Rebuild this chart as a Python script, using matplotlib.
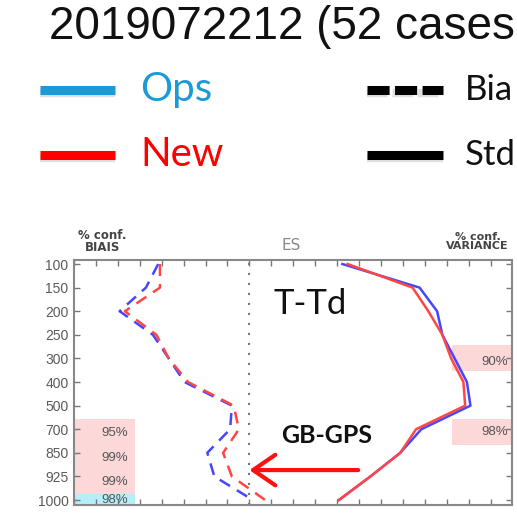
import matplotlib
matplotlib.use('Agg')
import matplotlib.pyplot as plt
import numpy as np

# Pressure levels (hPa), plotted at equal spacing
levels = ['100', '150', '200', '250', '300', '400', '500', '700', '850', '925', '1000']

# Bias profiles (dashed)
bias_ops = [-0.52, -0.59, -0.74, -0.55, -0.46, -0.37, -0.10, -0.11, -0.24, -0.20, 0.02]
bias_new = [-0.51, -0.51, -0.71, -0.53, -0.46, -0.35, -0.09, -0.06, -0.15, -0.10, 0.09]

# Standard deviation profiles (solid)
std_ops = [0.53, 0.97, 1.07, 1.10, 1.17, 1.24, 1.26, 0.98, 0.86, 0.69, 0.51]
std_new = [0.56, 0.93, 1.02, 1.10, 1.15, 1.22, 1.23, 0.95, 0.86, 0.69, 0.51]

# Significance labels
bias_conf = ['95%', '99%', '99%', '98%']
var_conf = ['90%', '98%']

blue = '#4646ff'
red = '#ff4646'
grey = '#5a5a5a'

fig = plt.figure(figsize=(5.17, 5.15), dpi=100)

# ---- header: title and legend (cropped slide, text visible up to the edge) ----
fig.text(0.094, 0.925, '2019072212 (52 cases', fontsize=33, family='Liberation Sans',
         color='#111111', va='baseline', ha='left')

leg = fig.add_axes([0, 0.6, 1, 0.28])
leg.set_xlim(0, 517)
leg.set_ylim(0.6 * 515, 0.88 * 515)
leg.axis('off')
yy = 515 - np.array([90, 155])
# soft shadow under the legend lines
for yv in yy:
    leg.plot([40, 115], [yv - 3] * 2, color='#cccccc', lw=6, alpha=0.6, solid_capstyle='butt')
leg.plot([367, 443], [yy[0] - 3] * 2, color='#cccccc', lw=6, alpha=0.6, dashes=(2.45, 0.6))
leg.plot([367, 443], [yy[1] - 3] * 2, color='#cccccc', lw=6, alpha=0.6, solid_capstyle='butt')
leg.plot([40, 115], [yy[0]] * 2, color='#1b9ad8', lw=6.5, solid_capstyle='butt')
leg.plot([40, 115], [yy[1]] * 2, color='#ff0000', lw=6.5, solid_capstyle='butt')
leg.plot([367, 443], [yy[0]] * 2, color='black', lw=6.5, dashes=(2.45, 0.6),
         dash_capstyle='butt')
leg.plot([367, 443], [yy[1]] * 2, color='black', lw=6.5, solid_capstyle='butt')
leg.text(140, yy[0], 'Ops', color='#1b9ad8', fontsize=29, family='Lato', va='center')
leg.text(140, yy[1], 'New', color='#ff0000', fontsize=29, family='Lato', va='center')
leg.text(465, yy[0], 'Bia', color='#111111', fontsize=25, family='Lato', va='center')
leg.text(465, yy[1], 'Std', color='#111111', fontsize=25, family='Lato', va='center')

# ---- profile panel ----
ax = fig.add_axes([74 / 517, 10 / 515, 438 / 517, 245 / 515])
y = np.arange(len(levels))

# significance shading
ax.axhspan(6.55, 9.75, xmin=0, xmax=0.139, color='#fcd8d8', lw=0)
ax.axhspan(9.75, 10.3, xmin=0, xmax=0.139, color='#b6eefa', lw=0)
ax.axhspan(3.45, 4.55, xmin=0.863, xmax=1, color='#fcd8d8', lw=0)
ax.axhspan(6.55, 7.65, xmin=0.863, xmax=1, color='#fcd8d8', lw=0)

for txt, yp in zip(bias_conf, [7.15, 8.2, 9.25, 10.0]):
    ax.text(-0.69, yp, txt, ha='right', va='center', fontsize=9.5, color='#555555',
            family='Liberation Sans')
for txt, yp in zip(var_conf, [4.15, 7.1]):
    ax.text(1.475, yp, txt, ha='right', va='center', fontsize=9.5, color='#555555',
            family='Liberation Sans')

ax.axvline(0, color='#777777', lw=1.5, dashes=(1, 3.8))

ax.plot(bias_ops, y, color=blue, lw=1.8, dashes=(4.8, 3.2))
ax.plot(bias_new, y, color=red, lw=1.8, dashes=(4.8, 3.2), dash_capstyle='butt')
ax.plot(std_ops, y, color=blue, lw=1.8)
ax.plot(std_new, y, color=red, lw=1.8)

ax.annotate('', xy=(0.0, 8.73), xytext=(0.62, 8.73),
            arrowprops=dict(arrowstyle='->,head_length=1.6,head_width=1.1',
                            color='#ff1010', lw=3, mutation_scale=10,
                            shrinkA=0, shrinkB=0))

ax.text(0.14, 1.7, 'T-Td', fontsize=25, family='Lato', color='#111111', va='center')
ax.text(0.18, 7.25, 'GB-GPS', fontsize=18, family='Lato', weight='bold',
        color='#111111', va='center')

ax.set_xlim(-1, 1.497)
ax.set_ylim(10.21, -0.17)
ax.set_yticks(y)
ax.set_yticklabels(levels, fontsize=10, color=grey, family='Liberation Sans')
ax.set_xticks(np.arange(-1, 1.5, 0.125))
ax.set_xticklabels([])
ax.tick_params(axis='both', direction='in', colors='#777777', labelcolor=grey,
               top=True, right=True, length=4, width=1, pad=4)
for s in ax.spines.values():
    s.set_color('#888888')
    s.set_linewidth(1.5)

ax.text(-0.84, -0.95, '% conf.\nBIAIS', ha='center', va='center', fontsize=8.5,
        weight='bold', color='#444444', linespacing=0.85, clip_on=False)
ax.text(1.48, -0.95, '% conf.\nVARIANCE', ha='right', va='center', fontsize=8,
        weight='bold', color='#444444', linespacing=0.85, clip_on=False,
        multialignment='center')
ax.text(0.24, -0.8, 'ES', ha='center', va='center', fontsize=11, color='#888888',
        clip_on=False)

fig.savefig('out.png', dpi=100)
